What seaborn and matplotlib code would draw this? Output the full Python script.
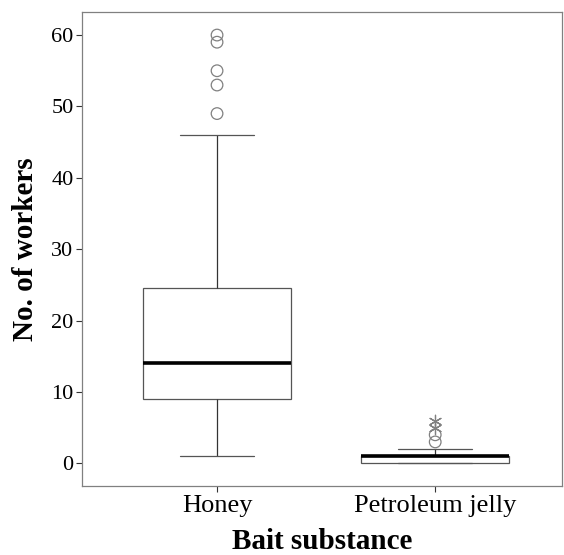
import matplotlib

matplotlib.use("Agg")
import matplotlib.pyplot as plt
import numpy as np
import pandas as pd
import seaborn as sns

# ---- veri ----
kategoriler = ["Honey", "Petroleum jelly"]
bal = [1, 3, 5, 6, 7, 8, 9, 9, 10, 11, 12, 13, 13, 14, 16, 18, 20, 22, 23,
       24, 25, 46, 49, 53, 55, 59, 60]
vazelin = [0] * 12 + [1] * 22 + [2, 2, 3, 4, 5, 6]
y_ticks = [0, 10, 20, 30, 40, 50, 60]

df = pd.DataFrame({
    "yem": [kategoriler[0]] * len(bal) + [kategoriler[1]] * len(vazelin),
    "sayi": bal + vazelin,
})

sns.set_theme(style="white")
plt.rcParams["font.family"] = ["Liberation Serif", "DejaVu Serif"]
plt.rcParams["text.color"] = "black"
plt.rcParams["axes.labelcolor"] = "black"
plt.rcParams["xtick.labelcolor"] = "black"
plt.rcParams["ytick.labelcolor"] = "black"

GRI = "#808080"
fig = plt.figure(figsize=(5.64, 5.55), dpi=100)
ax = fig.add_axes([0.145, 0.124, 0.851, 0.854])

sns.boxplot(data=df, x="yem", y="sayi", order=kategoriler, ax=ax, width=0.68,
            showfliers=False, color="white", whis=1.5,
            boxprops={"edgecolor": "#555555", "linewidth": 0.9},
            whiskerprops={"color": "#333333", "linewidth": 0.9},
            capprops={"color": "#555555", "linewidth": 0.9},
            medianprops={"color": "black", "linewidth": 2.6},
            capwidths=0.34)

# aykiri (o) ve uc (*) degerler, SPSS kurali
for i, vals in enumerate([bal, vazelin]):
    v = np.array(vals)
    q1, q3 = np.percentile(v, [25, 75])
    iqr = q3 - q1
    aykiri = v[((v > q3 + 1.5 * iqr) & (v <= q3 + 3 * iqr)) |
               ((v < q1 - 1.5 * iqr) & (v >= q1 - 3 * iqr))]
    uc = v[(v > q3 + 3 * iqr) | (v < q1 - 3 * iqr)]
    ax.scatter([i] * len(aykiri), aykiri, s=70, facecolors="none",
               edgecolors=GRI, linewidths=0.9, zorder=3)
    ax.scatter([i] * len(uc), uc, s=80, marker=(6, 2, 0), color=GRI,
               linewidths=0.9, zorder=3)

ax.set_xlim(-0.62, 1.58)
ax.set_ylim(-3.2, 63.2)
ax.set_yticks(y_ticks)
ax.set_xlabel("Bait substance", fontsize=21, fontweight="bold", labelpad=8)
ax.set_ylabel("No. of workers", fontsize=21, fontweight="bold", labelpad=9)
ax.tick_params(axis="both", length=4, width=0.8, pad=2,
               color="#333333", direction="out", bottom=True, left=True)
ax.tick_params(axis="y", labelsize=16)
ax.tick_params(axis="x", labelsize=19)
for s in ax.spines.values():
    s.set_color(GRI)
    s.set_linewidth(0.9)

fig.savefig("out.png", dpi=100)
